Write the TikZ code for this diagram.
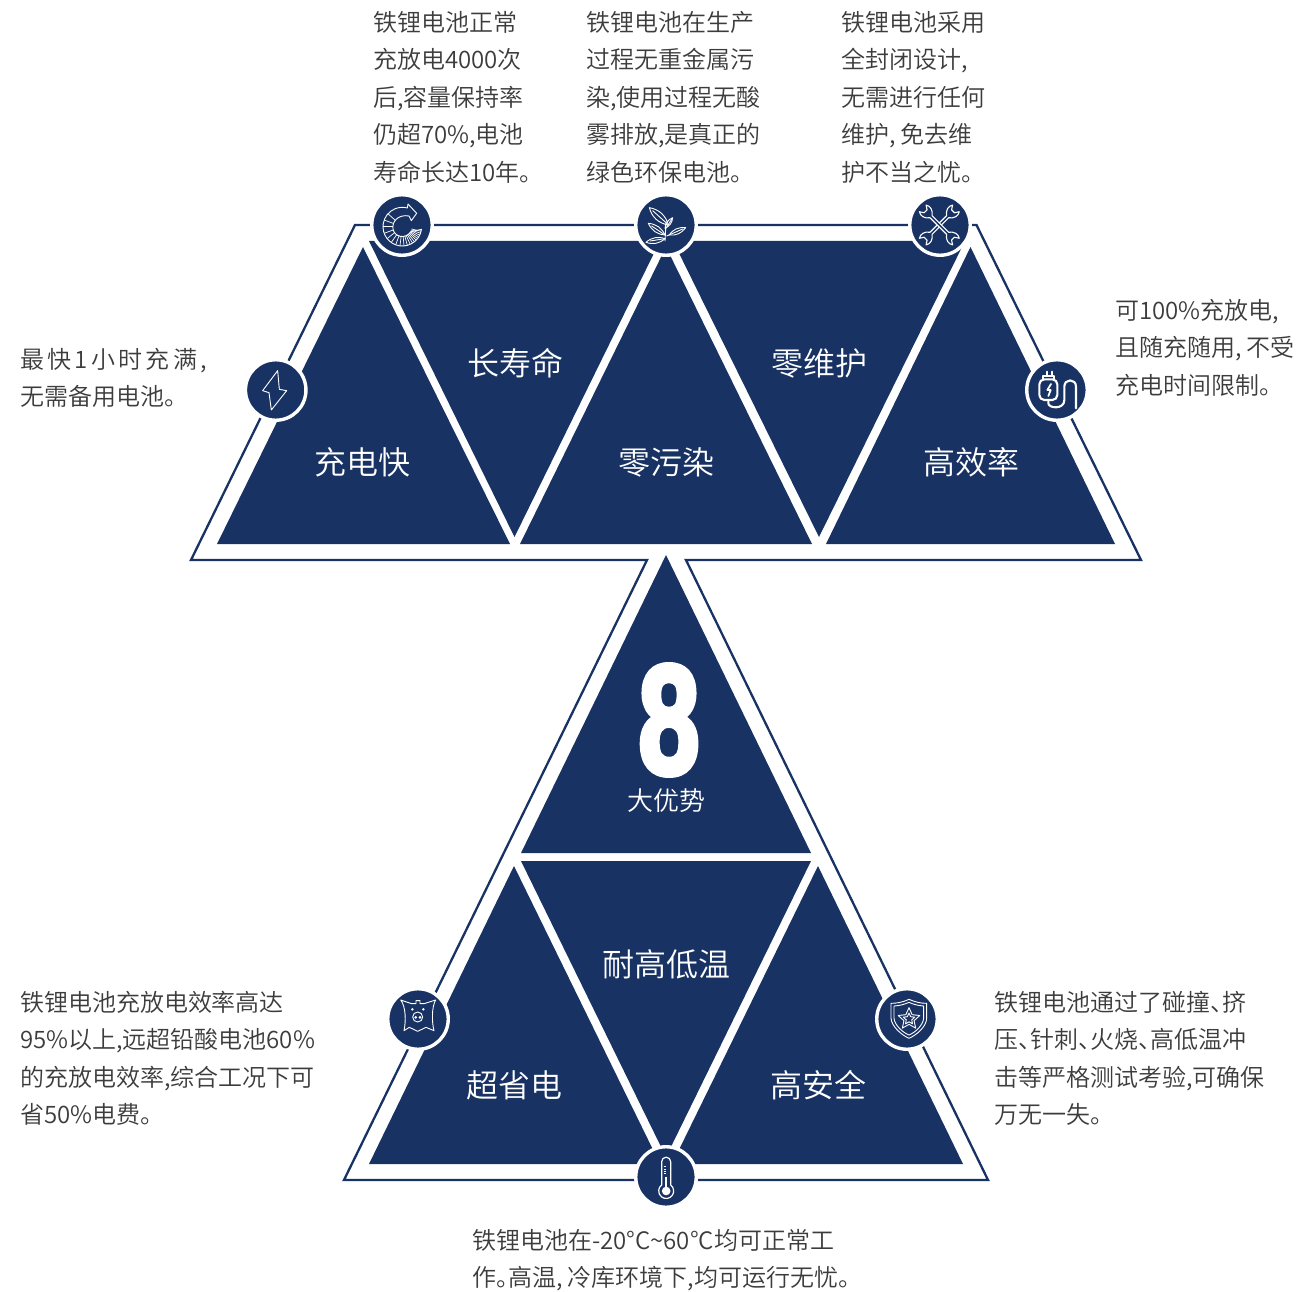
\documentclass[tikz,border=0pt]{standalone}
\usepackage{fontspec}
\setmainfont{Noto Sans CJK SC}
\newfontfamily\lightcjk{Noto Sans CJK SC DemiLight}
\newfontfamily\eightfont[FakeBold=4]{Liberation Sans Bold}
\usetikzlibrary{calc}
\definecolor{navy}{HTML}{183263}
\definecolor{bodytext}{HTML}{3C3C3C}
\newcommand{\dun}{、\kern-12pt }
\newcommand{\juhao}{。\kern-12pt }
\newcommand{\wcomma}{,\kern5.5pt }
\tikzset{
  x=1pt,y=-1pt,
  tri/.style={fill=navy,draw=none},
  rim/.style={draw=navy,line width=2.3pt,line join=miter,fill=none},
  badge/.style={circle,fill=navy,draw=white,line width=3.4pt,minimum size=60.5pt,inner sep=0pt,outer sep=0pt},
  note/.style={anchor=north west,align=left,inner sep=0pt,outer sep=0pt,text=bodytext,font=\lightcjk\fontsize{24}{37.5}\selectfont},
  title/.style={text=white,inner sep=0pt,font=\lightcjk\fontsize{32}{36}\selectfont},
  ico/.style={draw=white,line width=0.9pt,line join=round,line cap=round,fill=none},
  zoomed/.style={x=0.33333pt,y=-0.33333pt},
}
\begin{document}
\begin{tikzpicture}
\useasboundingbox (0,0) rectangle (1299,1292);
\fill[white] (0,0) rectangle (1299,1292);
% outline
\draw[rim] (355,225) -- (191,560) -- (647,560) -- (344,1180) -- (988,1180) -- (686,560) -- (1141,560) -- (976.5,225) -- cycle;
% upper row
\fill[tri] (363,247) -- (217,544) -- (510,544) -- cycle;
\fill[tri] (666,247) -- (520,544) -- (812,544) -- cycle;
\fill[tri] (970.5,247) -- (826,544) -- (1115,544) -- cycle;
\fill[tri] (369,241) -- (660,241) -- (514.5,537) -- cycle;
\fill[tri] (673,241) -- (965,241) -- (819,537) -- cycle;
% eight triangle
\fill[tri] (666,555) -- (521,853) -- (811,853) -- cycle;
% lower row
\fill[tri] (521,861) -- (811,861) -- (666,1157) -- cycle;
\fill[tri] (514,866) -- (369,1164) -- (660,1164) -- cycle;
\fill[tri] (818,866) -- (672,1164) -- (963,1164) -- cycle;
% badges
\node[badge] (b1) at (402,225) {};
\node[badge] (b2) at (666,225) {};
\node[badge] (b3) at (940,225) {};
\node[badge] (b4) at (275.7,390) {};
\node[badge] (b5) at (1057,390) {};
\node[badge] (b6) at (418,1019) {};
\node[badge] (b7) at (907,1019) {};
\node[badge] (b8) at (666,1177) {};
% titles
\node[title] (t1) at (515,363) {长寿命};
\node[title] (t2) at (819,363) {零维护};
\node[title] (t3) at (362.5,462) {充电快};
\node[title] (t4) at (666,462) {零污染};
\node[title] (t5) at (971,462) {高效率};
\node[title] (t6) at (666,964) {耐高低温};
\node[title] (t7) at (514,1085) {超省电};
\node[title] (t8) at (818,1085) {高安全};
\node[text=white,inner sep=0pt,font=\lightcjk\fontsize{26}{30}\selectfont] (t9) at (666,801) {大优势};
\node[text=white,inner sep=0pt,xscale=0.71,transform shape,font=\eightfont\fontsize{155}{155}\selectfont] (eight) at (669,720) {8};
% notes
\node[note] (n1) at (373,11) {铁锂电池正常\\充放电4000次\\后,容量保持率\\仍超70\%,电池\\寿命长达10年。};
\node[note] (n2) at (586,11) {铁锂电池在生产\\过程无重金属污\\染,使用过程无酸\\雾排放,是真正的\\绿色环保电池。};
\node[note] (n3) at (841,11) {铁锂电池采用\\全封闭设计,\\无需进行任何\\维护\wcomma 免去维\\护不当之忧。};
\node[note] (n4) at (1115,299) {可100\%充放电,\\且随充随用\wcomma 不受\\充电时间限制。};
\node[note] (n5) at (20,348) {{\addfontfeature{LetterSpace=14}最快1小时充满,}\\无需备用电池。};
\node[note] (n6) at (20,991) {铁锂电池充放电效率高达\\95\%以上,远超铅酸电池60\%\\的充放电效率,综合工况下可\\省50\%电费。};
\node[note] (n7) at (994,991) {铁锂电池通过了碰撞\dun 挤\\压\dun 针刺\dun 火烧\dun 高低温冲\\击等严格测试考验,可确保\\万无一失。};
\node[note] (n8) at (472,1229) {铁锂电池在-20°C\textasciitilde 60°C均可正常工\\作\juhao 高温\wcomma 冷库环境下,均可运行无忧。};
% icon 1: circular arrow with ticks
\begin{scope}[shift={(340,180)},zoomed]
  \draw[ico] (187,140) ++(8:58) coordinate (ra) arc[start angle=8,end angle=285,radius=58]
     -- (204,72) -- (230,100) -- (214,122) -- (207,108)
     .. controls (175,102) and (155,125) .. (159,147) .. controls (163,170) and (195,180) .. (213,155) -- (ra);
  \foreach \a in {14,20,26,32,38,44,51,58,66,75,85,97,110,125,142,160,180,200,222}
    \draw[ico,line width=0.7pt] ($(187,140)+(\a:29)$) -- ($(187,140)+(\a:57)$);
\end{scope}
% icon 2: plant
\begin{scope}[shift={(340,180)},zoomed]
  \draw[ico] (985,135) to[bend left=32] (928,83) to[bend left=32] (985,135);
  \draw[ico] (975,145) to[bend left=30] (998,113) to[bend left=30] (975,145);
  \draw[ico] (975,165) to[bend left=30] (925,130) to[bend left=30] (975,165);
  \draw[ico] (987,165) to[bend left=30] (1037,143) to[bend left=30] (987,165);
  \draw[ico] (975,176) to[bend left=30] (918,187) to[bend left=30] (975,176);
  \draw[ico] (938,92) -- (978,128) -- (975,183);
  \draw[ico] (935,138) -- (975,165);
  \draw[ico] (930,183) -- (975,176);
  \draw[ico] (1028,147) -- (980,168);
  \draw[ico] (995,118) -- (978,145);
\end{scope}
% icon 3: crossed wrenches
\begin{scope}[shift={(880,180)},zoomed]
  \foreach \r in {45,-45}{
   \begin{scope}[shift={(178,135)},rotate=\r,scale=0.88]
    \draw[ico,fill=navy,line width=1.1pt] (-40,-5) -- (40,-5)
      .. controls (50,-20) and (68,-25) .. (80,-16) -- (66,-7) -- (66,7) -- (80,16)
      .. controls (68,25) and (50,20) .. (40,5) -- (-40,5)
      .. controls (-50,20) and (-68,25) .. (-80,16) -- (-66,7) -- (-66,-7) -- (-80,-16)
      .. controls (-68,-25) and (-50,-20) .. (-40,-5) -- cycle;
   \end{scope}}
\end{scope}
% icon 4: lightning
\begin{scope}[shift={(180,340)},zoomed]
  \draw[ico] (293,92) -- (248,152) -- (267,158) -- (274,210) -- (320,152) -- (298,148) -- cycle;
\end{scope}
% icon 5: battery and cord
\begin{scope}[shift={(880,180)},zoomed]
  \draw[ico,line width=2.1pt,rounded corners=5pt] (478,598) rectangle (532,660);
  \draw[ico,line width=2.1pt] (490,598) -- (490,587) -- (522,587) -- (522,598);
  \draw[ico,line width=2.1pt] (500,587) -- (500,575) (517,587) -- (517,575);
  \draw[ico,line width=1.8pt] (513,612) -- (502,630) -- (512,630) -- (505,648);
  \draw[ico,line width=2.1pt] (505,660) -- (505,670) .. controls (505,685) and (553,690) .. (553,660) -- (553,620) .. controls (553,595) and (588,595) .. (588,620) -- (588,685);
\end{scope}
% icon 6: pig
\begin{scope}[shift={(340,970)},zoomed]
  \draw[ico] (182,90) -- (215,101) -- (228,101) -- (228,92) -- (240,92) -- (240,101) -- (252,101) -- (287,90) .. controls (275,110) and (275,155) .. (282,182) -- (258,172) -- (233,184) -- (208,172) -- (192,182) .. controls (198,155) and (198,110) .. (182,90) -- cycle;
  \draw[ico] (233,141) circle[radius=15];
  \fill[white] (227,142) circle[radius=4.5] (240,142) circle[radius=4.5];
  \fill[white] (217,118) circle[radius=4] (250,118) circle[radius=4];
\end{scope}
% icon 7: shield with star
\begin{scope}[shift={(860,970)},zoomed]
  \draw[ico] (147,88) .. controls (130,96) and (112,100) .. (93,100) -- (93,145) .. controls (95,170) and (125,195) .. (147,205) .. controls (170,195) and (199,170) .. (200,145) -- (200,100) .. controls (182,100) and (165,96) .. (147,88) -- cycle;
  \draw[ico] (147,97) .. controls (132,104) and (117,107) .. (102,108) -- (102,145) .. controls (104,165) and (127,187) .. (147,195) .. controls (167,187) and (189,165) .. (191,145) -- (191,108) .. controls (177,107) and (162,104) .. (147,97) -- cycle;
  \foreach \rr/\ri in {34/16,18/8.5}{
  \draw[ico] ($(147,147)+(-90:\rr)$) \foreach \k in {1,...,4}{ -- ($(147,147)+({-90+(\k-0.5)*72}:\ri)$) -- ($(147,147)+({-90+\k*72}:\rr)$)} -- ($(147,147)+({-90+4.5*72}:\ri)$) -- cycle;}
\end{scope}
% icon 8: thermometer
\begin{scope}[shift={(600,1120)},zoomed]
  \draw[ico,line width=1.2pt] (185,195) -- (185,125) arc[start angle=180,end angle=360,radius=13.5] -- (212,195) arc[start angle=-53,end angle=233,radius=22.5] -- cycle;
  \fill[white] (198.5,213) circle[radius=13];
  \draw[white,line width=1.4pt] (198.5,170) -- (198.5,205);
  \foreach \yy in {140,147,154,161} \draw[white,line width=0.7pt] (191,\yy) -- (199,\yy);
\end{scope}
\end{tikzpicture}
\end{document}
